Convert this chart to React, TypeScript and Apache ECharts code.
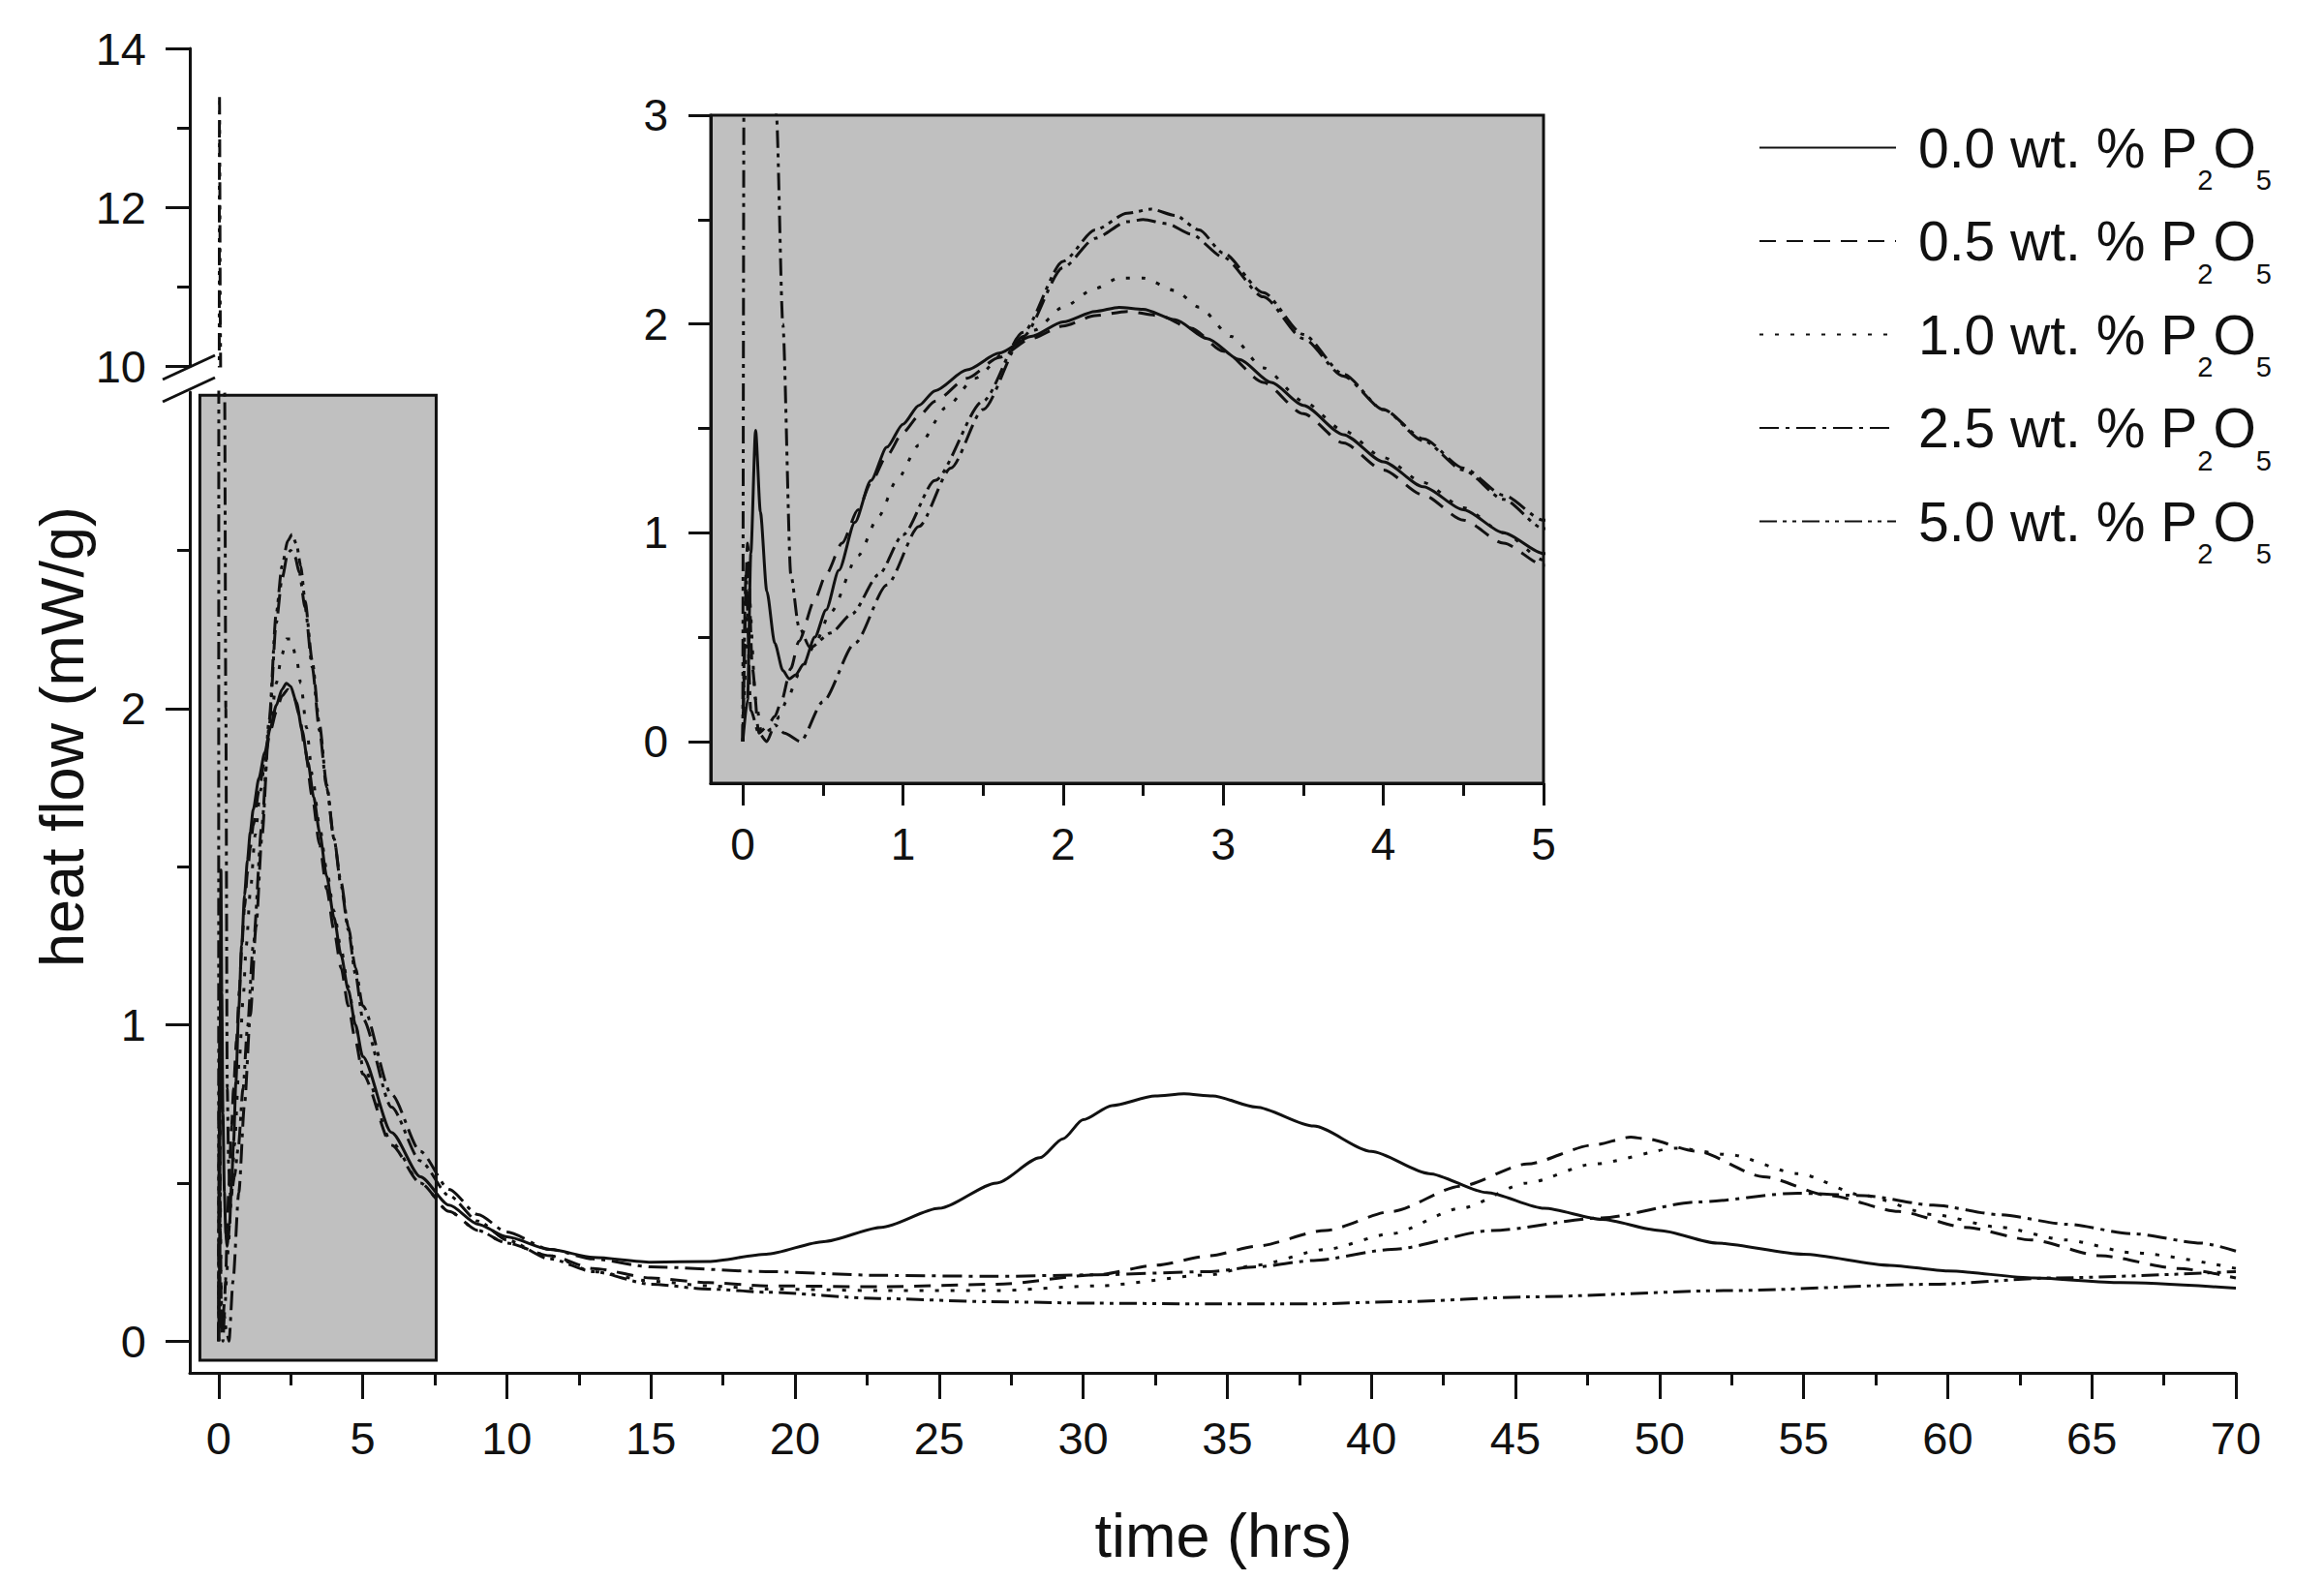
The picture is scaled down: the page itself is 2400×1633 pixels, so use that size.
import React, { useEffect, useRef } from "react";
import * as echarts from "echarts";

// ---------- data (time in hrs, heat flow in mW/g) ----------
const NAMES = [
  "0.0 wt. % P2O5",
  "0.5 wt. % P2O5",
  "1.0 wt. % P2O5",
  "2.5 wt. % P2O5",
  "5.0 wt. % P2O5",
];

const P00: number[][] = [
  [0, 0], [0.03, 0.2], [0.05, 0.9], [0.08, 1.49], [0.11, 1.1], [0.15, 0.72], [0.2, 0.47], [0.25, 0.34],
  [0.29, 0.3], [0.33, 0.32], [0.38, 0.37], [0.45, 0.5], [0.52, 0.63], [0.6, 0.82], [0.7, 1.05], [0.8, 1.25],
  [0.9, 1.41], [1.0, 1.52], [1.1, 1.61], [1.2, 1.68], [1.4, 1.78], [1.6, 1.86], [1.8, 1.94], [2.0, 2.01],
  [2.2, 2.06], [2.35, 2.08], [2.5, 2.07], [2.7, 2.02], [2.9, 1.93], [3.1, 1.83], [3.3, 1.72], [3.5, 1.61],
  [3.75, 1.47], [4.0, 1.34], [4.25, 1.22], [4.5, 1.11], [4.75, 1.0], [5, 0.9], [6, 0.66], [7, 0.52], [8, 0.43],
  [9, 0.37], [10, 0.33], [11.5, 0.29], [13, 0.265], [15, 0.25], [17, 0.252], [19, 0.275], [21, 0.315],
  [23, 0.36], [25, 0.42], [27, 0.5], [28.5, 0.58], [29.3, 0.64], [30, 0.7], [31, 0.745], [32.5, 0.775],
  [33.5, 0.782], [34.5, 0.775], [36, 0.74], [38, 0.68], [40, 0.6], [42, 0.53], [44, 0.47], [46, 0.42],
  [48, 0.385], [50, 0.35], [52, 0.31], [55, 0.275], [58, 0.24], [60, 0.222], [63, 0.2], [66, 0.185], [70, 0.168],
];

const P05: number[][] = [
  [0, 0], [0.03, 0.95], [0.06, 0.35], [0.1, 0.04], [0.15, 0.07], [0.2, 0.12], [0.24, 0.19], [0.3, 0.35],
  [0.35, 0.48], [0.45, 0.68], [0.52, 0.8], [0.62, 0.95], [0.72, 1.11], [0.8, 1.24], [0.9, 1.37], [1.0, 1.48],
  [1.1, 1.56], [1.2, 1.63], [1.4, 1.74], [1.6, 1.84], [1.8, 1.93], [2.0, 1.99], [2.2, 2.04], [2.4, 2.06],
  [2.6, 2.04], [2.8, 1.98], [3.0, 1.87], [3.25, 1.72], [3.5, 1.57], [3.75, 1.43], [4.0, 1.3], [4.25, 1.18],
  [4.5, 1.06], [4.75, 0.95], [5, 0.845], [6, 0.62], [7, 0.5], [8, 0.41], [9, 0.35], [10, 0.31], [11.5, 0.27],
  [13, 0.23], [15, 0.2], [17, 0.185], [19, 0.175], [23, 0.172], [27, 0.18], [30.5, 0.21], [32.5, 0.24],
  [34.4, 0.27], [36, 0.3], [38.4, 0.35], [40.7, 0.41], [43.1, 0.49], [45.4, 0.56], [47.7, 0.62], [49, 0.645],
  [49.5, 0.64], [51.3, 0.6], [53.6, 0.52], [55.9, 0.46], [58.3, 0.41], [60.6, 0.36], [62.9, 0.32],
  [65.3, 0.27], [68, 0.23], [70, 0.2],
];

const P10: number[][] = [
  [0, 0], [0.04, 0.7], [0.08, 0.2], [0.12, 0.03], [0.18, 0.06], [0.23, 0.12], [0.27, 0.19], [0.35, 0.32],
  [0.44, 0.45], [0.55, 0.62], [0.72, 0.89], [0.85, 1.08], [0.96, 1.25], [1.1, 1.42], [1.27, 1.6], [1.45, 1.74],
  [1.65, 1.87], [1.82, 1.97], [2.0, 2.08], [2.2, 2.17], [2.35, 2.22], [2.5, 2.22], [2.7, 2.16], [2.85, 2.08],
  [3.05, 1.94], [3.25, 1.79], [3.5, 1.63], [3.75, 1.49], [4.0, 1.36], [4.25, 1.24], [4.5, 1.12], [4.75, 1.0],
  [5, 0.87], [6, 0.63], [7, 0.5], [8, 0.41], [9, 0.35], [10, 0.31], [11.5, 0.27], [13, 0.22], [15, 0.19],
  [17, 0.175], [19, 0.165], [23, 0.16], [27, 0.16], [30.5, 0.175], [34.4, 0.21], [36, 0.24], [38.4, 0.29],
  [40.7, 0.34], [43.1, 0.42], [45.4, 0.5], [47.7, 0.56], [50.6, 0.61], [52.4, 0.59], [54.8, 0.53],
  [57.1, 0.46], [59.5, 0.4], [61.8, 0.36], [64.1, 0.32], [66.4, 0.28], [70, 0.23],
];

const P25: number[][] = [
  [0, 0], [0.02, 0.8], [0.05, 0.15], [0.1, 0.04], [0.15, 0.0], [0.2, 0.08], [0.26, 0.04], [0.36, 0.0],
  [0.5, 0.19], [0.7, 0.47], [0.9, 0.75], [1.1, 1.03], [1.3, 1.31], [1.5, 1.59], [1.75, 1.94], [2.0, 2.27],
  [2.2, 2.41], [2.4, 2.49], [2.5, 2.5], [2.65, 2.48], [2.8, 2.43], [3.0, 2.32], [3.25, 2.13], [3.5, 1.93],
  [3.75, 1.75], [4.0, 1.59], [4.25, 1.45], [4.5, 1.31], [4.75, 1.18], [5, 1.06], [6, 0.78], [7, 0.6], [8, 0.48],
  [9, 0.4], [10, 0.345], [11.5, 0.29], [13, 0.26], [15, 0.235], [19, 0.22], [23, 0.208], [27, 0.205],
  [30.5, 0.21], [34.4, 0.22], [36, 0.235], [38, 0.255], [40.7, 0.29], [44.2, 0.35], [48, 0.39], [51.3, 0.44],
  [54.8, 0.468], [57.1, 0.46], [59.5, 0.43], [61.8, 0.4], [64.1, 0.37], [66.4, 0.34], [68.8, 0.31], [70, 0.285],
];

const P50: number[][] = [
  [0, 0], [0.01, 4], [0.03, 13.4], [0.06, 10.5], [0.1, 7.2], [0.15, 4.8], [0.21, 3.0], [0.25, 2.0],
  [0.3, 0.8], [0.35, 0.55], [0.42, 0.45], [0.55, 0.52], [0.68, 0.61], [0.85, 0.8], [1.0, 0.99], [1.2, 1.25],
  [1.5, 1.63], [1.75, 1.96], [2.0, 2.3], [2.2, 2.45], [2.4, 2.53], [2.55, 2.55], [2.7, 2.52], [2.85, 2.45],
  [3.0, 2.34], [3.25, 2.15], [3.5, 1.95], [3.75, 1.76], [4.0, 1.59], [4.25, 1.44], [4.5, 1.3], [4.75, 1.16],
  [5, 1.02], [6, 0.74], [7, 0.57], [8, 0.46], [9, 0.38], [10, 0.32], [11.5, 0.26], [13, 0.22], [15, 0.18],
  [17, 0.165], [19, 0.155], [22.9, 0.135], [26.7, 0.125], [30.5, 0.12], [34.4, 0.118], [38, 0.118], [41, 0.125],
  [45.4, 0.14], [52.4, 0.16], [59.5, 0.18], [63.7, 0.2], [70, 0.22],
];

const SERIES_DATA = [P00, P05, P10, P25, P50];
const DASHES: (string | number[])[] = ["solid", [17, 11], [4, 12], [20, 7, 4, 7], [18, 6, 4, 6, 4, 6]];

// ticks
const X_MAJOR = [0, 5, 10, 15, 20, 25, 30, 35, 40, 45, 50, 55, 60, 65, 70];
const X_MINOR = [2.5, 7.5, 12.5, 17.5, 22.5, 27.5, 32.5, 37.5, 42.5, 47.5, 52.5, 57.5, 62.5, 67.5];
const Y_LOW_MAJOR = [0, 1, 2];
const Y_LOW_MINOR = [0.5, 1.5, 2.5];
const Y_HIGH_MAJOR = [10, 12, 14];
const Y_HIGH_MINOR = [11, 13];
const IX_MAJOR = [0, 1, 2, 3, 4, 5];
const IX_MINOR = [0.5, 1.5, 2.5, 3.5, 4.5];
const IY_MAJOR = [0, 1, 2, 3];
const IY_MINOR = [0.5, 1.5, 2.5];

// highlighted zoom region drawn in the main plot (data coords)
const ZOOM_BOX = [[-0.65, -0.06], [7.55, 2.99]];

const FONT = "'Liberation Sans', Arial, Helvetica, sans-serif";
const INK = "#111";

function valueAxis(opts: any) {
  const {
    grid, min, max, ticks, labels, len, position, showLine = true, fontSize = 47, margin = 40, extra = {},
  } = opts;
  return {
    type: "value",
    gridIndex: grid,
    min,
    max,
    position,
    axisLine: { show: showLine, onZero: false, lineStyle: { color: INK, width: 3 } },
    axisTick: {
      show: ticks.length > 0,
      customValues: ticks,
      length: len,
      lineStyle: { color: INK, width: 3 },
    },
    axisLabel: labels
      ? { show: true, customValues: labels, fontSize, fontFamily: FONT, color: INK, margin }
      : { show: false },
    splitLine: { show: false },
    minorTick: { show: false },
    ...extra,
  };
}

export default function App() {
  const ref = useRef<HTMLDivElement>(null);

  useEffect(() => {
    if (!ref.current) return;
    const chart = echarts.init(ref.current, null, { renderer: "svg" });

    const series: any[] = [];
    series.push({
      type: "line",
      xAxisIndex: 0,
      yAxisIndex: 0,
      data: [],
      symbol: "none",
      silent: true,
      markArea: {
        silent: true,
        itemStyle: { color: "#c0c0c0", borderColor: INK, borderWidth: 3 },
        data: [[{ coord: ZOOM_BOX[0] }, { coord: ZOOM_BOX[1] }]],
      },
      z: 1,
    });
    const targets = [
      { x: 0, y: 0 },
      { x: 2, y: 2 },
      { x: 3, y: 4 },
    ];
    SERIES_DATA.forEach((d, i) => {
      targets.forEach((t) => {
        series.push({
          type: "line",
          name: NAMES[i],
          xAxisIndex: t.x,
          yAxisIndex: t.y,
          data: d,
          symbol: "none",
          smooth: 0.25,
          smoothMonotone: "x",
          clip: true,
          lineStyle: { color: INK, width: 3, type: DASHES[i] },
          itemStyle: { color: INK },
          z: 3,
        });
      });
    });

    const option: any = {
      animation: false,
      backgroundColor: "#ffffff",
      textStyle: { fontFamily: FONT, color: INK },
      grid: [
        { left: 196, top: 405, width: 2113, height: 1013, outerBoundsMode: "none" },
        { left: 196, top: 50, width: 2113, height: 328, outerBoundsMode: "none" },
        {
          left: 734, top: 119, width: 860, height: 690, show: true,
          backgroundColor: "#c0c0c0", borderColor: INK, borderWidth: 3, outerBoundsMode: "none",
        },
      ],
      xAxis: [
        valueAxis({
          grid: 0, min: -1, max: 70, ticks: X_MAJOR, labels: X_MAJOR, len: 27, position: "bottom", margin: 44,
          extra: {
            name: "time (hrs)",
            nameLocation: "middle",
            nameGap: 136,
            nameTextStyle: { fontSize: 63, fontFamily: FONT, color: INK, padding: [0, 0, 0, 22] },
          },
        }),
        valueAxis({ grid: 0, min: -1, max: 70, ticks: X_MINOR, len: 13, position: "bottom", showLine: false }),
        { type: "value", gridIndex: 1, min: -1, max: 70, show: false },
        valueAxis({ grid: 2, min: -0.2, max: 5, ticks: IX_MAJOR, labels: IX_MAJOR, len: 23, position: "bottom", fontSize: 46, margin: 40 }),
        valueAxis({ grid: 2, min: -0.2, max: 5, ticks: IX_MINOR, len: 13, position: "bottom", showLine: false }),
      ],
      yAxis: [
        valueAxis({ grid: 0, min: -0.1, max: 3, ticks: Y_LOW_MAJOR, labels: Y_LOW_MAJOR, len: 25, position: "left", margin: 45 }),
        valueAxis({ grid: 0, min: -0.1, max: 3, ticks: Y_LOW_MINOR, len: 13, position: "left", showLine: false }),
        valueAxis({ grid: 1, min: 10, max: 14, ticks: Y_HIGH_MAJOR, labels: Y_HIGH_MAJOR, len: 25, position: "left", margin: 45 }),
        valueAxis({ grid: 1, min: 10, max: 14, ticks: Y_HIGH_MINOR, len: 13, position: "left", showLine: false }),
        valueAxis({ grid: 2, min: -0.2, max: 3, ticks: IY_MAJOR, labels: IY_MAJOR, len: 23, position: "left", fontSize: 46, margin: 44 }),
        valueAxis({ grid: 2, min: -0.2, max: 3, ticks: IY_MINOR, len: 13, position: "left", showLine: false }),
      ],
      legend: {
        data: NAMES,
        orient: "vertical",
        left: 1811,
        top: 119,
        itemWidth: 141,
        itemHeight: 20,
        itemGap: 20,
        selectedMode: false,
        itemStyle: { opacity: 0 },
        formatter: (name: string) => `{a|${name.split(" P")[0]} P}{s|2}{a|O}{s|5}`,
        textStyle: {
          fontFamily: FONT,
          color: INK,
          padding: [0, 0, 0, 18],
          rich: {
            a: { fontSize: 57, lineHeight: 96, fontFamily: FONT, color: INK },
            s: { fontSize: 29, lineHeight: 30, verticalAlign: "bottom", fontFamily: FONT, color: INK },
          },
        },
      },
      graphic: [
        {
          type: "text",
          x: 64,
          y: 761,
          rotation: Math.PI / 2,
          style: {
            text: "heat flow (mW/g)",
            fontSize: 63,
            fontFamily: FONT,
            fill: INK,
            align: "center",
            verticalAlign: "middle",
            textAlign: "center",
            textVerticalAlign: "middle",
          },
        },
        { type: "line", shape: { x1: 168, y1: 392, x2: 222, y2: 367 }, style: { stroke: INK, lineWidth: 3 }, z: 10 },
        { type: "line", shape: { x1: 168, y1: 415, x2: 222, y2: 390 }, style: { stroke: INK, lineWidth: 3 }, z: 10 },
      ],
      series,
    };

    chart.setOption(option);
    return () => chart.dispose();
  }, []);

  return (
    <div
      ref={ref}
      style={{ position: "absolute", left: 0, top: 0, width: 2400, height: 1633, background: "#fff" }}
    />
  );
}
